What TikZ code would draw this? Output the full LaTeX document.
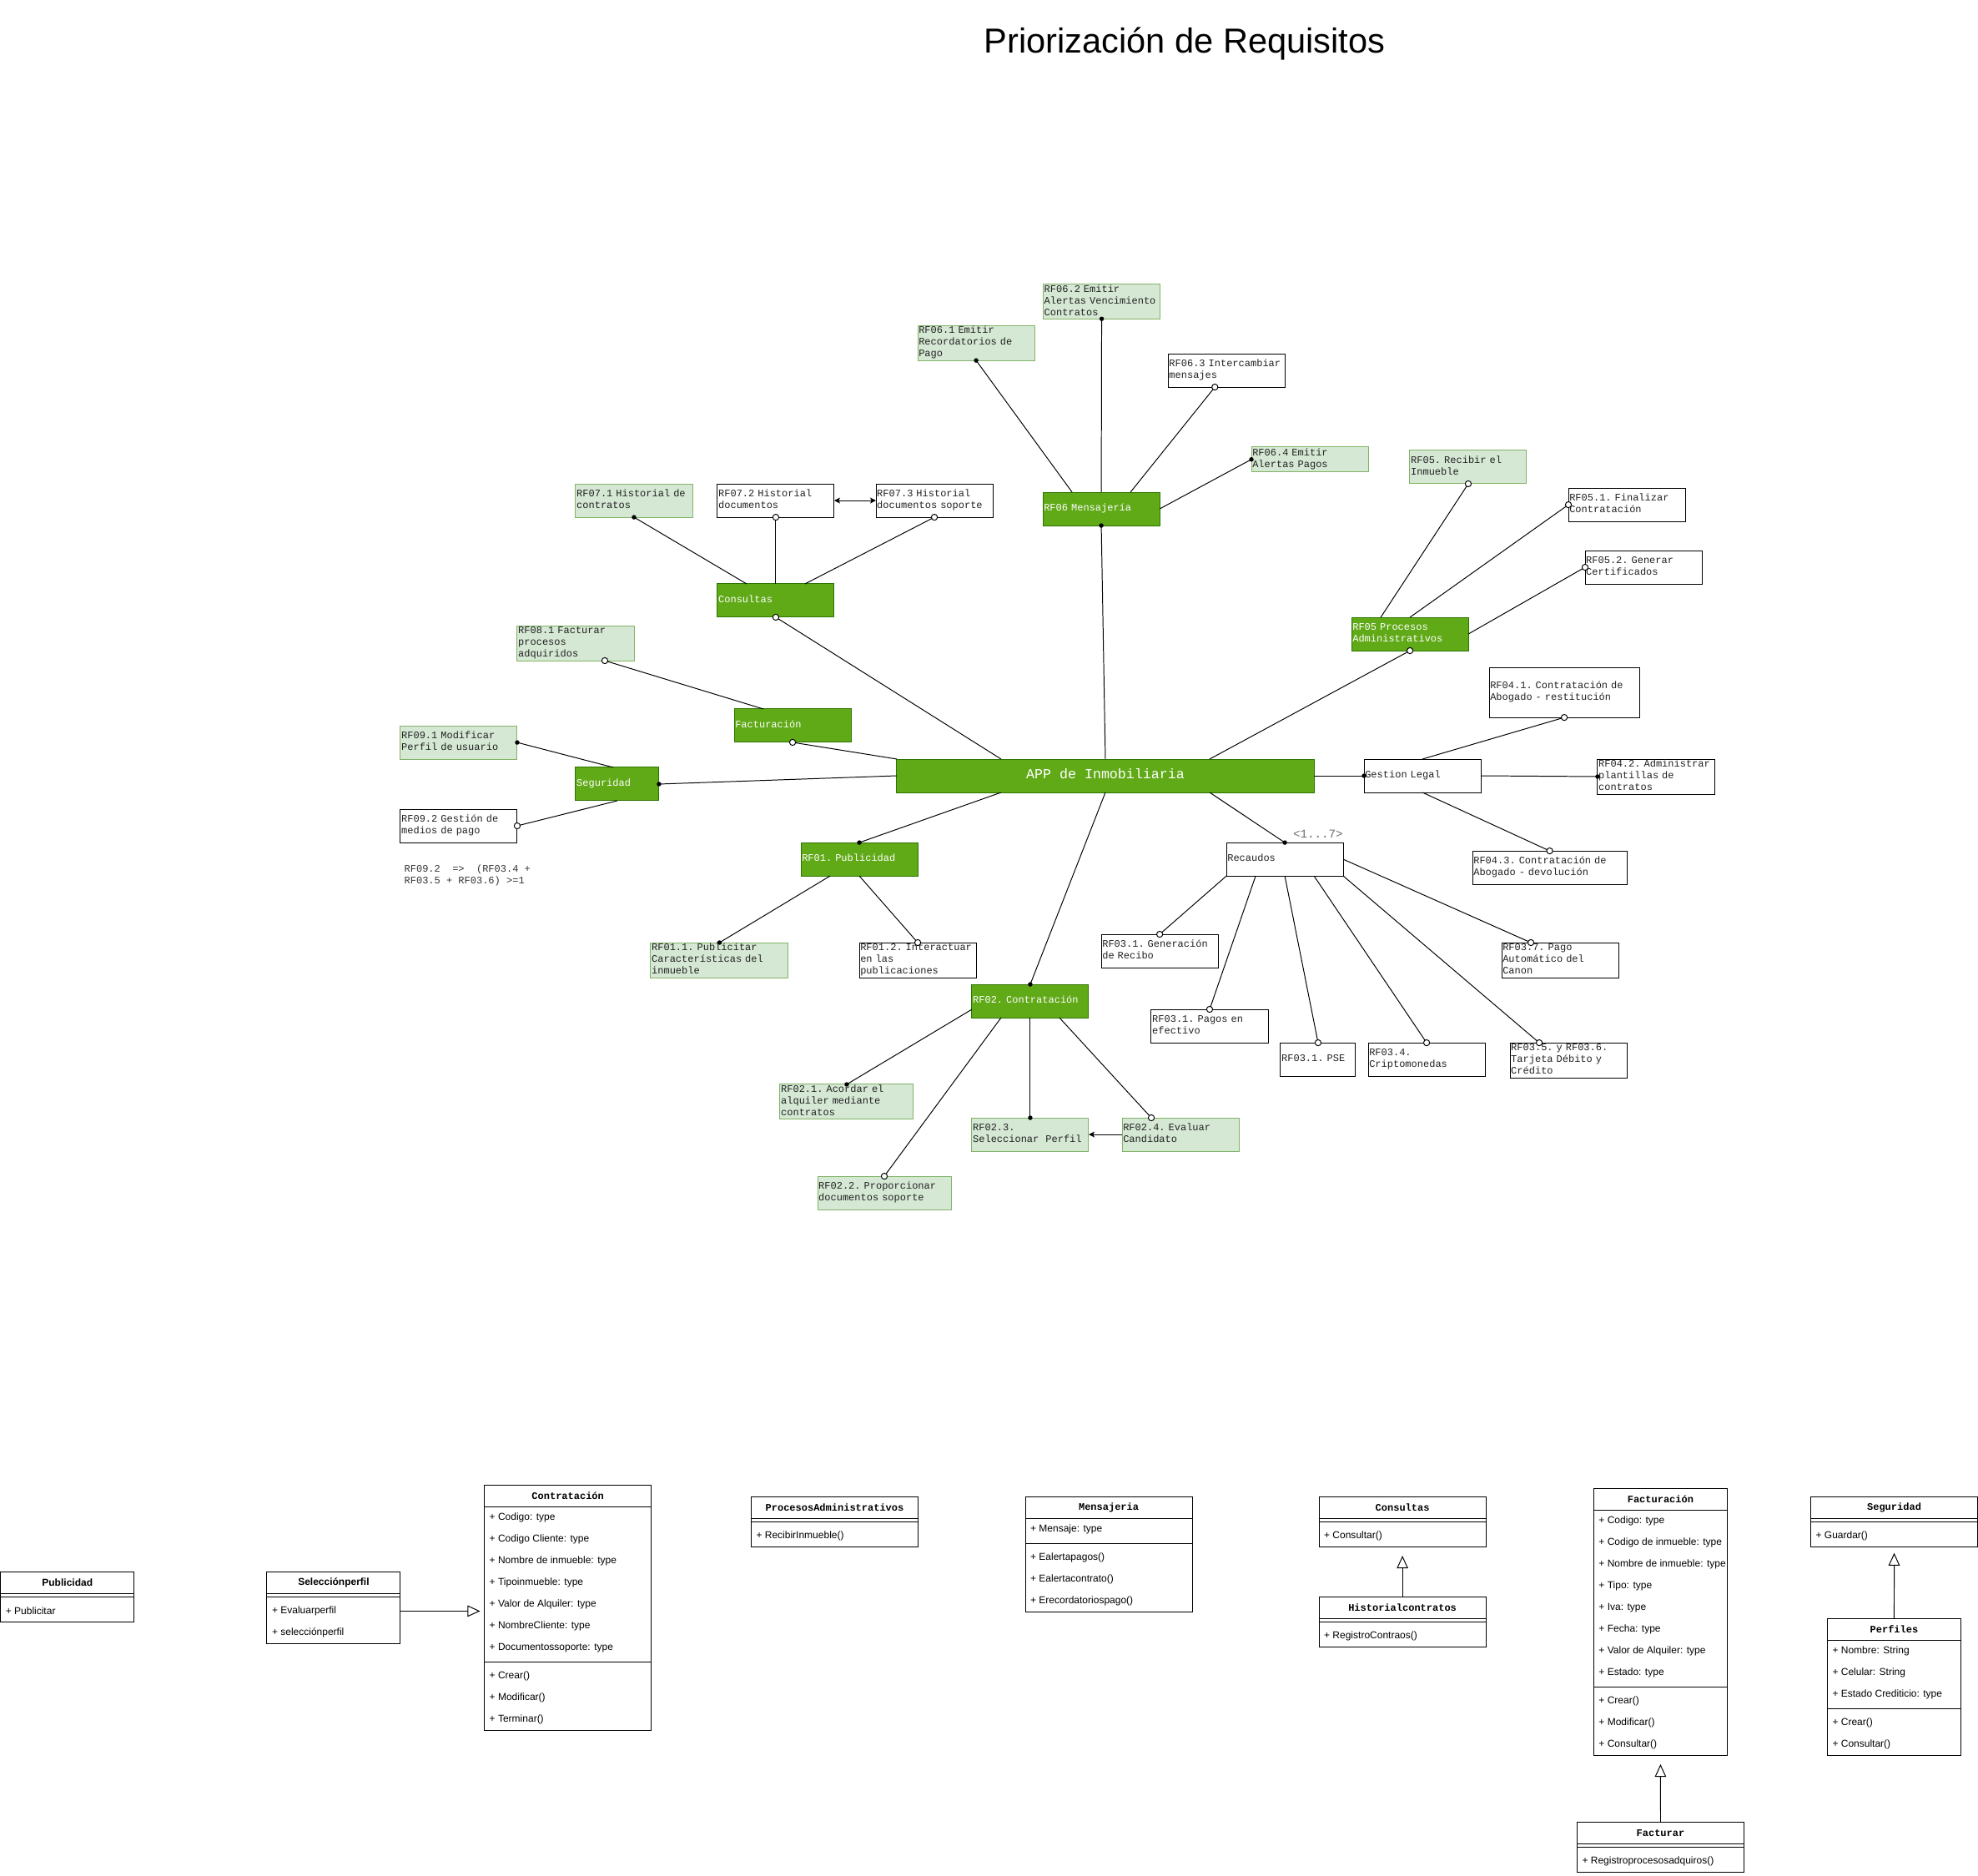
\documentclass[tikz,border=0pt]{standalone}
\usepackage{fontspec}
\setmainfont{Liberation Sans}
\newfontfamily\mono{Liberation Mono}
\usetikzlibrary{calc,arrows.meta}
\definecolor{dgreen}{HTML}{60A917}
\definecolor{dgreenline}{HTML}{2D7600}
\definecolor{lgreen}{HTML}{D5E8D4}
\definecolor{lgreenline}{HTML}{82B366}
\definecolor{txt}{HTML}{222222}
\definecolor{notec}{HTML}{333333}

\newcommand\bx[7]{\pgfmathsetmacro\tw{#5-1.6}\node[#2, text width=\tw pt, minimum height=#6pt] (#1) at (#3,#4) {#7};}
\newcommand\dotm[1]{\fill[black] #1 circle[radius=1.8pt];}
\newcommand\opm[1]{\filldraw[fill=white, draw=black, line width=0.65pt] #1 circle[radius=2.4pt];}
% UML class frame: name, x, y, w, n attributes, n methods, title, title style
\newcommand\umlc[8]{%
  \pgfmathsetmacro\uh{17.2*(1+#5+#6)+5.3}%
  \pgfmathsetmacro\us{17.2*(1+#5)+2.65}%
  \node[umlframe, minimum width=#4pt, minimum height=\uh pt] (#1) at (#2,#3) {};
  \draw[umlline] ($(#1.north west)+(0,17.2)$) -- ++(#4,0);
  \draw[umlline] ($(#1.north west)+(0,\us)$) -- ++(#4,0);
  \node[#8] (#1-t) at ($(#1.north west)+(#4/2,8.6)$) {#7};
}
% rows: name, suffix, offset from top, list
\newcommand\umlrows[4]{\foreach \itm [count=\i] in {#4} {\node[umltext] (#1-#2\i) at ($(#1.north west)+(3.8,{#3+\i*17.2-8.6})$) {\itm};}}

\begin{document}
\begin{tikzpicture}[x=1pt,y=-1pt,
  base/.style={draw, line width=0.65pt, anchor=north west, outer sep=0pt, inner xsep=0.8pt, inner ysep=0pt, align=left,
    font=\mono\fontsize{7.94}{9.26}\selectfont, execute at begin node=\strut, execute at end node=\strut},
  gbox/.style={base, fill=dgreen, draw=dgreenline, text=white},
  lbox/.style={base, fill=lgreen, draw=lgreenline, text=txt},
  wbox/.style={base, fill=white, draw=black, text=txt},
  conn/.style={line width=0.65pt, draw=black},
  dblarr/.style={conn, {Stealth[length=4.6pt,width=4.6pt,inset=1pt]}-{Stealth[length=4.6pt,width=4.6pt,inset=1pt]}},
  sarr/.style={conn, -{Stealth[length=4.6pt,width=4.6pt,inset=1pt]}},
  umlframe/.style={draw, fill=white, line width=0.65pt, anchor=north west, inner sep=0pt, outer sep=0pt},
  umlline/.style={line width=0.65pt},
  umltext/.style={anchor=west, inner sep=0pt, font=\fontsize{7.94}{9.5}\selectfont, text=black},
  hsans/.style={inner sep=0pt, font=\bfseries\fontsize{7.94}{9.5}\selectfont},
  hmono/.style={inner sep=0pt, font=\mono\bfseries\fontsize{7.94}{9.5}\selectfont},
  inherit/.style={line width=0.65pt, -{Triangle[open, length=10pt, width=9pt]}},
]
\fill[white] (0,0) rectangle (1568,1487);
\useasboundingbox (0,0) rectangle (1568,1487);

\node[font=\fontsize{27.5}{33}\selectfont] (title) at (939,35) {Priorización de Requisitos};

% central node
\node[gbox, align=center, minimum width=330.7pt, minimum height=26.46pt, font=\mono\fontsize{11}{13}\selectfont] (app) at (710.9,601.8) {APP de Inmobiliaria};

% Mensajeria
\bx{rf062}{lbox}{827}{225}{92.6}{26.46}{RF06.2~Emitir\\Alertas~Vencimiento\\Contratos}
\bx{rf061}{lbox}{727.5}{258}{92.6}{26.46}{RF06.1~Emitir\\Recordatorios~de\\Pago}
\bx{rf063}{wbox}{926}{280.4}{92.6}{26.46}{RF06.3~Intercambiar\\mensajes}
\bx{rf064}{lbox}{992}{354.3}{92.6}{19.84}{RF06.4~Emitir\\Alertas~Pagos}
\bx{rf06}{gbox}{826.7}{390.2}{92.6}{26.46}{RF06~Mensajería}

% Consultas
\bx{rf071}{lbox}{456.3}{383.6}{92.6}{26.46}{RF07.1~Historial~de\\contratos}
\bx{rf072}{wbox}{568.7}{383.6}{92.6}{26.46}{RF07.2~Historial\\documentos}
\bx{rf073}{wbox}{694.4}{383.6}{92.6}{26.46}{RF07.3~Historial\\documentos~soporte}
\bx{consultas}{gbox}{568.7}{462.9}{92.6}{26.46}{Consultas}

% Facturacion
\bx{rf081}{lbox}{410}{496}{92.6}{26.46}{RF08.1~Facturar\\procesos\\adquiridos}
\bx{facturacion}{gbox}{582}{562.1}{92.6}{26.46}{Facturación}

% Seguridad
\bx{rf091}{lbox}{317.4}{575.4}{92.6}{26.46}{RF09.1~Modificar\\Perfil~de~usuario}
\bx{seguridad}{gbox}{456.3}{608.4}{66.1}{26.46}{Seguridad}
\bx{rf092}{wbox}{317.4}{641.5}{92.6}{26.46}{RF09.2~Gestión~de\\medios~de~pago}
\node[anchor=north west, inner sep=0pt, align=left, text=notec, font=\mono\fontsize{7.94}{9.26}\selectfont,
  execute at begin node=\strut, execute at end node=\strut] (note) at (320.3,685.4)
  {RF09.2~~=>~~(RF03.4~+\\RF03.5~+~RF03.6)~>=1};

% Publicidad
\bx{rf01}{gbox}{634.9}{668}{92.6}{26.46}{RF01.~Publicidad}
\bx{rf011}{lbox}{515.8}{747.3}{109.1}{26.46}{RF01.1.~Publicitar\\Características~del\\inmueble}
\bx{rf012}{wbox}{681.2}{747.3}{92.6}{26.46}{RF01.2.~Interactuar\\en~las\\publicaciones}

% Contratacion
\bx{rf02}{gbox}{770.4}{780.4}{92.6}{26.46}{RF02.~Contratación}
\bx{rf021}{lbox}{618.3}{859.7}{105.8}{26.46}{RF02.1.~Acordar~el\\alquiler~mediante\\contratos}
\bx{rf022}{lbox}{648.1}{932.5}{105.8}{26.46}{RF02.2.~Proporcionar\\documentos~soporte}
\bx{rf023}{lbox}{770.4}{886.2}{92.6}{26.46}{RF02.3.\\Seleccionar\ \ Perfil}
\bx{rf024}{lbox}{889.5}{886.2}{92.6}{26.46}{RF02.4.~Evaluar\\Candidato}

% Procesos administrativos
\bx{rf05r}{lbox}{1117.6}{357.1}{92.6}{26.46}{RF05.~Recibir~el\\Inmueble}
\bx{rf051}{wbox}{1243.3}{386.9}{92.6}{26.46}{RF05.1.~Finalizar\\Contratación}
\bx{rf052}{wbox}{1256.5}{436.5}{92.6}{26.46}{RF05.2.~Generar\\Certificados}
\bx{rf05}{gbox}{1071.4}{489.4}{92.6}{26.46}{RF05~Procesos\\Administrativos}

% Gestion legal
\bx{rf041}{wbox}{1180.5}{529.1}{119}{39.7}{RF04.1.~Contratación~de\\Abogado~-~restitución}
\bx{gestion}{wbox}{1081.3}{601.8}{92.6}{26.46}{Gestion~Legal}
\bx{rf042}{wbox}{1266.4}{601.8}{92.6}{26.46}{RF04.2.~Administrar\\plantillas~de\\contratos}
\bx{rf043}{wbox}{1167.3}{674.6}{122.3}{26.46}{RF04.3.~Contratación~de\\Abogado~-~devolución}

% Recaudos
\bx{recaudos}{wbox}{972.2}{668}{92.6}{26.46}{Recaudos}
\node[inner sep=0pt, text=gray!85!black, font=\mono\fontsize{9.4}{11}\selectfont] (card) at (1044.8,661.2) {<1...7>};
\bx{rf031g}{wbox}{873}{740.7}{92.6}{26.46}{RF03.1.~Generación\\de~Recibo}
\bx{rf031p}{wbox}{912.6}{800.2}{92.6}{26.46}{RF03.1.~Pagos~en\\efectivo}
\bx{rf031pse}{wbox}{1015.1}{826.7}{59.5}{26.46}{RF03.1.~PSE}
\bx{rf034}{wbox}{1084.6}{826.7}{92.6}{26.46}{RF03.4.\\Criptomonedas}
\bx{rf035}{wbox}{1197}{826.7}{92.6}{26.46}{RF03.5.~y~RF03.6.\\Tarjeta~Débito~y\\Crédito}
\bx{rf037}{wbox}{1190.4}{747.3}{92.6}{26.46}{RF03.7.~Pago\\Automático~del\\Canon}

% ---------- connectors ----------
% Mensajeria
\draw[conn] ($(rf06.north west)!.25!(rf06.north east)$) -- (rf061.south); \dotm{(rf061.south)}
\draw[conn] (rf06.north) -- (rf062.south); \dotm{(rf062.south)}
\draw[conn] ($(rf06.north west)!.75!(rf06.north east)$) -- ($(rf063.south west)!.4!(rf063.south east)$); \opm{($(rf063.south west)!.4!(rf063.south east)$)}
\draw[conn] (rf06.east) -- (rf064.west); \dotm{(rf064.west)}
\draw[conn] (app.north) -- (rf06.south); \dotm{(rf06.south)}
% Consultas
\draw[conn] ($(consultas.north west)!.25!(consultas.north east)$) -- (rf071.south); \dotm{(rf071.south)}
\draw[conn] (consultas.north) -- (rf072.south); \opm{(rf072.south)}
\draw[conn] ($(consultas.north west)!.75!(consultas.north east)$) -- (rf073.south); \opm{(rf073.south)}
\draw[dblarr] (rf072.east) -- (rf073.west);
\draw[conn] ($(app.north west)!.25!(app.north east)$) -- (consultas.south); \opm{(consultas.south)}
% Facturacion
\draw[conn] ($(facturacion.north west)!.25!(facturacion.north east)$) -- ($(rf081.south west)!.75!(rf081.south east)$); \opm{($(rf081.south west)!.75!(rf081.south east)$)}
\draw[conn] (app.north west) -- (facturacion.south); \opm{(facturacion.south)}
% Seguridad
\draw[conn] ($(seguridad.north west)!.45!(seguridad.north east)$) -- (rf091.east); \dotm{(rf091.east)}
\draw[conn] (seguridad.south) -- (rf092.east); \opm{(rf092.east)}
\draw[conn] (app.west) -- (seguridad.east); \dotm{(seguridad.east)}
% Publicidad
\draw[conn] ($(app.south west)!.25!(app.south east)$) -- (rf01.north); \dotm{(rf01.north)}
\draw[conn] ($(rf01.south west)!.25!(rf01.south east)$) -- (rf011.north); \dotm{(rf011.north)}
\draw[conn] (rf01.south) -- (rf012.north); \opm{(rf012.north)}
% Contratacion
\draw[conn] (app.south) -- (rf02.north); \dotm{(rf02.north)}
\draw[conn] ($(rf02.north west)!.75!(rf02.south west)$) -- (rf021.north); \dotm{(rf021.north)}
\draw[conn] ($(rf02.south west)!.25!(rf02.south east)$) -- (rf022.north); \opm{(rf022.north)}
\draw[conn] (rf02.south) -- (rf023.north); \dotm{(rf023.north)}
\draw[conn] ($(rf02.south west)!.75!(rf02.south east)$) -- ($(rf024.north west)!.25!(rf024.north east)$); \opm{($(rf024.north west)!.25!(rf024.north east)$)}
\draw[sarr] (rf024.west) -- (rf023.east);
% Procesos administrativos
\draw[conn] ($(app.north west)!.75!(app.north east)$) -- (rf05.south); \opm{(rf05.south)}
\draw[conn] ($(rf05.north west)!.25!(rf05.north east)$) -- (rf05r.south); \opm{(rf05r.south)}
\draw[conn] (rf05.north) -- (rf051.west); \opm{(rf051.west)}
\draw[conn] (rf05.east) -- (rf052.west); \opm{(rf052.west)}
% Gestion legal
\draw[conn] (app.east) -- (gestion.west); \dotm{(gestion.west)}
\draw[conn] (gestion.east) -- (rf042.west); \dotm{(rf042.west)}
\draw[conn] (gestion.north) -- (rf041.south); \opm{(rf041.south)}
\draw[conn] (gestion.south) -- (rf043.north); \opm{(rf043.north)}
% Recaudos
\draw[conn] ($(app.south west)!.75!(app.south east)$) -- (recaudos.north); \dotm{(recaudos.north)}
\draw[conn] (recaudos.south west) -- (rf031g.north); \opm{(rf031g.north)}
\draw[conn] ($(recaudos.south west)!.25!(recaudos.south east)$) -- (rf031p.north); \opm{(rf031p.north)}
\draw[conn] (recaudos.south) -- (rf031pse.north); \opm{(rf031pse.north)}
\draw[conn] ($(recaudos.south west)!.75!(recaudos.south east)$) -- (rf034.north); \opm{(rf034.north)}
\draw[conn] (recaudos.south east) -- ($(rf035.north west)!.25!(rf035.north east)$); \opm{($(rf035.north west)!.25!(rf035.north east)$)}
\draw[conn] (recaudos.east) -- ($(rf037.north west)!.25!(rf037.north east)$); \opm{($(rf037.north west)!.25!(rf037.north east)$)}

% ---------- UML classes ----------
\umlc{pub}{0.5}{1246.2}{105.8}{0}{1}{Publicidad}{hsans}
\umlrows{pub}{m}{22.5}{+ Publicitar}
\umlc{selp}{211.6}{1246.2}{105.8}{0}{2}{Selecciónperfil}{hsans}
\umlrows{selp}{m}{22.5}{+ Evaluarperfil, + selecciónperfil}
\umlc{contr}{384}{1177.4}{132.3}{7}{3}{Contratación}{hmono}
\umlrows{contr}{a}{17.2}{+ Codigo: type, + Codigo Cliente: type, + Nombre de inmueble: type, + Tipoinmueble: type, + Valor de Alquiler: type, + NombreCliente: type, + Documentossoporte: type}
\umlrows{contr}{m}{142.9}{+ Crear(), + Modificar(), + Terminar()}
\umlc{procadm}{595.5}{1186.7}{132.3}{0}{1}{ProcesosAdministrativos}{hmono}
\umlrows{procadm}{m}{22.5}{+ RecibirInmueble()}
\umlc{mensaj}{812.8}{1186.7}{132.3}{1}{3}{Mensajeria}{hmono}
\umlrows{mensaj}{a}{17.2}{+ Mensaje: type}
\umlrows{mensaj}{m}{39.7}{+ Ealertapagos(), + Ealertacontrato(), + Erecordatoriospago()}
\umlc{consul}{1045.6}{1186.7}{132.3}{0}{1}{Consultas}{hmono}
\umlrows{consul}{m}{22.5}{+ Consultar()}
\umlc{histc}{1045.6}{1266}{132.3}{0}{1}{Historialcontratos}{hmono}
\umlrows{histc}{m}{22.5}{+ RegistroContraos()}
\umlc{factur}{1263.4}{1180}{105.8}{8}{3}{Facturación}{hmono}
\umlrows{factur}{a}{17.2}{+ Codigo: type, + Codigo de inmueble: type, + Nombre de inmueble: type, + Tipo: type, + Iva: type, + Fecha: type, + Valor de Alquiler: type, + Estado: type}
\umlrows{factur}{m}{160.1}{+ Crear(), + Modificar(), + Consultar()}
\umlc{segur}{1435.4}{1186.7}{132.3}{0}{1}{Seguridad}{hmono}
\umlrows{segur}{m}{22.5}{+ Guardar()}
\umlc{perf}{1448.6}{1283.3}{105.8}{3}{2}{Perfiles}{hmono}
\umlrows{perf}{a}{17.2}{+ Nombre: String, + Celular: String, + Estado Crediticio: type}
\umlrows{perf}{m}{74.1}{+ Crear(), + Consultar()}
\umlc{facturar}{1250.2}{1444.6}{132.3}{0}{1}{Facturar}{hmono}
\umlrows{facturar}{m}{22.5}{+ Registroprocesosadquiros()}

% inheritance
\draw[inherit, shorten >=3.4pt] ([yshift=-2.65pt]selp.east) -- ([yshift=-2.65pt]selp.east -| contr.west);
\draw[inherit, shorten >=7pt] (histc.north) -- (consul.south);
\draw[inherit, shorten >=4.8pt] (perf.north) -- (segur.south);
\draw[inherit, shorten >=7pt] (facturar.north) -- (factur.south);
\end{tikzpicture}
\end{document}
